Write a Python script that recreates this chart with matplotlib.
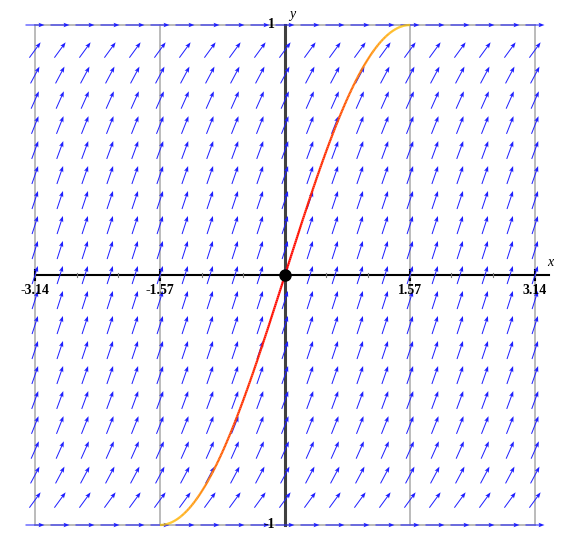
import numpy as np
import matplotlib.pyplot as plt
from matplotlib.collections import LineCollection
from matplotlib.colors import LinearSegmentedColormap

# slope field for y' = sqrt(1 - y^2) and the solution y = sin(x)
x_grid = np.linspace(-3.14, 3.14, 21)
y_grid = np.linspace(-1.0, 1.0, 21)
x_ticks = [-3.14, -1.57, 1.57, 3.14]
x_tick_labels = ["-3.14", "-1.57", "1.57", "3.14"]
y_tick_labels = ["1", "-1"]

W, H, DPI = 565, 537, 100
# pixel mapping: x=-3.14 -> 35px, x=3.14 -> 535px ; y=1 -> 25px, y=-1 -> 525px (from top)
px_x = 500 / 6.28
px_y = 250.0
xlim = (-3.14 - 35 / px_x, 3.14 + (W - 535) / px_x)
ylim = (-1 - (H - 525) / px_y, 1 + 25 / px_y)

fig = plt.figure(figsize=(W / DPI, H / DPI), dpi=DPI)
ax = fig.add_axes([0, 0, 1, 1])
ax.set_xlim(*xlim)
ax.set_ylim(*ylim)
ax.axis("off")

# grid lines
for xv in x_ticks:
    ax.plot([xv, xv], [-1, 1], color="#a8a8a8", lw=1.1, zorder=1)
for yv in (-1, 1):
    ax.plot([-3.14, 3.14], [yv, yv], color="#a8a8a8", lw=1.1, zorder=1)

# axes
ax.plot([-3.14, 3.14 + 14 / px_x], [0, 0], color="black", lw=1.5, zorder=2)
ax.plot([0, 0], [-1, 1], color="#404040", lw=2.2, zorder=2)
for xv in x_ticks:
    ax.plot([xv, xv], [-5 / px_y, 5 / px_y], color="black", lw=1.5, zorder=2)
for xv in np.arange(-3.14, 3.15, 0.523):
    ax.plot([xv, xv], [-2 / px_y, 2 / px_y], color="#777777", lw=0.8, zorder=2)

# arrows: constant pixel length
X, Y = np.meshgrid(x_grid, y_grid)
slope = np.sqrt(np.clip(1 - Y ** 2, 0, None))
u = px_x * np.ones_like(X)
v = px_y * slope
norm = np.hypot(u, v)
L = 19.0
U = u / norm * L
V = v / norm * L
ax.quiver(X, Y, U, V, angles="uv", scale_units="dots", scale=1, pivot="mid",
          units="dots", width=1.0, headwidth=4.5, headlength=6, headaxislength=5,
          color="#1f1fff", zorder=3)

# solution curve with gradient colouring
xs = np.linspace(-np.pi / 2, np.pi / 2, 400)
ys = np.sin(xs)
pts = np.column_stack([xs, ys]).reshape(-1, 1, 2)
segs = np.concatenate([pts[:-1], pts[1:]], axis=1)
cmap = LinearSegmentedColormap.from_list(
    "ry", [(0.0, "#ff0000"), (0.35, "#ff3300"), (0.65, "#ff8000"), (1.0, "#ffd200")])
t = np.abs((xs[:-1] + xs[1:]) / 2) / (np.pi / 2)
lc = LineCollection(segs, colors=cmap(t), linewidths=1.6, zorder=4)
ax.add_collection(lc)
ax.plot([0], [0], "o", color="black", ms=8, zorder=5)

# labels
font = dict(family="Liberation Serif", fontweight="bold", fontsize=10)
for xv, lab in zip(x_ticks, x_tick_labels):
    ax.text(xv, -9 / px_y, lab, ha="center", va="top", **font)
ax.text(-10 / px_x, 1, y_tick_labels[0], ha="right", va="center", **font)
ax.text(-10 / px_x, -1, y_tick_labels[1], ha="right", va="center", **font)
ax.text(3.14 + 12 / px_x, 6 / px_y, "x", ha="left", va="bottom",
        family="Liberation Serif", style="italic", fontsize=10)
ax.text(4 / px_x, 1 + 4 / px_y, "y", ha="left", va="bottom",
        family="Liberation Serif", style="italic", fontsize=10)

fig.savefig("out.png", dpi=DPI)
